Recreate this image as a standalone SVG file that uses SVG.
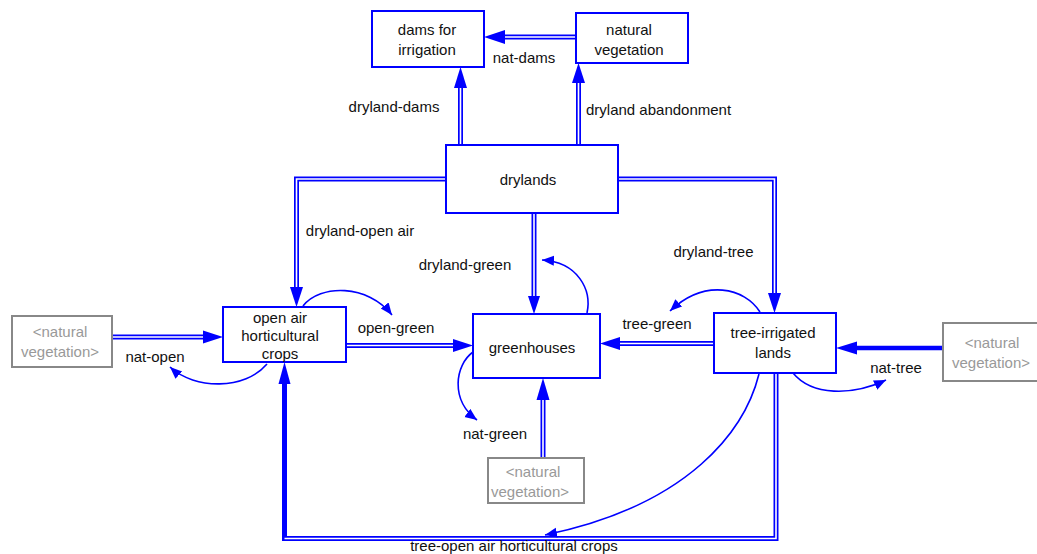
<svg xmlns="http://www.w3.org/2000/svg" width="1037" height="554" viewBox="0 0 1037 554">
<style>
text{font-family:"Liberation Sans",Arial,sans-serif;font-size:15px;fill:#111;text-anchor:middle}
.ghost text{fill:#999}
.box{fill:#fff;stroke:#0000ff;stroke-width:2}
.gbox{fill:#fff;stroke:#888;stroke-width:2}
.po{fill:none;stroke:#0000ff;stroke-width:5}
.pi{fill:none;stroke:#fff;stroke-width:1.6}
.ah{fill:#0000ff}
.link{fill:none;stroke:#0000ff;stroke-width:1.6}
.thick{fill:none;stroke:#0000ff;stroke-width:4.5}
</style>
<defs>
<marker id="arr" markerUnits="userSpaceOnUse" markerWidth="14" markerHeight="12" refX="12" refY="5" orient="auto">
<path d="M0,0 L12,5 L0,10 z" fill="#0000ff"/>
</marker>
</defs>
<rect width="1037" height="554" fill="#fff"/>
<g id="connectors">
<path class="po" d="M460.5,145 V87"/><path class="pi" d="M460.5,145 V87"/>
<path class="po" d="M578.5,145 V82"/><path class="pi" d="M578.5,145 V82"/>
<path class="po" d="M576,37 H504"/><path class="pi" d="M576,37 H504"/>
<path class="po" d="M446,179 H296.5 V287"/><path class="pi" d="M446,179 H296.5 V287"/>
<path class="po" d="M618,179 H774.5 V293"/><path class="pi" d="M618,179 H774.5 V293"/>
<path class="po" d="M534,213 V296"/><path class="pi" d="M534,213 V296"/>
<path class="po" d="M346,345.5 H454"/><path class="pi" d="M346,345.5 H454"/>
<path class="po" d="M714,343.5 H620"/><path class="pi" d="M714,343.5 H620"/>
<path class="po" d="M112,337 H204"/><path class="pi" d="M112,337 H204"/>
<path class="po" d="M543,458 V399"/><path class="pi" d="M543,458 V399"/>
<path class="po" d="M776,373 V538.5 H284.5 V383"/><path class="pi" d="M776,373 V538.5 H284.5"/>
<path class="thick" d="M943,348 H856"/>
<polygon class="ah" points="460.5,67 467,88 454,88"/>
<polygon class="ah" points="578.5,63 585,83 572,83"/>
<polygon class="ah" points="484,37 505,30 505,44"/>
<polygon class="ah" points="296.5,307 290,287 303,287"/>
<polygon class="ah" points="774.5,313 768,293 781,293"/>
<polygon class="ah" points="534,314 528,296 540,296"/>
<polygon class="ah" points="473,345.5 453,339 453,352"/>
<polygon class="ah" points="600,343.5 620,337 620,350"/>
<polygon class="ah" points="223,337 203,330.5 203,343.5"/>
<polygon class="ah" points="543,378 536.5,400 549.5,400"/>
<polygon class="ah" points="284.5,362 278.5,384 290.5,384"/>
<polygon class="ah" points="836,348 857,341.5 857,354.5"/>
<path class="link" marker-end="url(#arr)" d="M303,306 C320,284 368,284 392,315"/>
<path class="link" marker-end="url(#arr)" d="M267,364 C245,390 195,390 170,367"/>
<path class="link" marker-end="url(#arr)" d="M473,352 C455,365 450,400 477,420"/>
<path class="link" marker-end="url(#arr)" d="M587,313 C592,290 578,262 542,260"/>
<path class="link" marker-end="url(#arr)" d="M760,312 C745,288 705,278 670,311"/>
<path class="link" marker-end="url(#arr)" d="M793,373 C812,396 852,396 886,380"/>
<path class="link" marker-end="url(#arr)" d="M759,374 C745,430 690,505 545,535"/>
<text x="394" y="112">dryland-dams</text>
<text x="586" y="115" style="text-anchor:start">dryland abandonment</text>
<text x="524" y="63">nat-dams</text>
<text x="360" y="236">dryland-open air</text>
<text x="465" y="270">dryland-green</text>
<text x="713.5" y="257">dryland-tree</text>
<text x="396" y="333">open-green</text>
<text x="657" y="329">tree-green</text>
<text x="155" y="362">nat-open</text>
<text x="896" y="373">nat-tree</text>
<text x="495" y="439">nat-green</text>
<text x="514" y="551">tree-open air horticultural crops</text>
</g>
<g id="dams">
<rect class="box" x="372" y="11" width="112" height="56"/>
<text x="427" y="35">dams for</text>
<text x="427" y="55">irrigation</text>
</g>
<g id="natural-vegetation">
<rect class="box" x="576" y="13" width="112" height="50"/>
<text x="629" y="35">natural</text>
<text x="629" y="55">vegetation</text>
</g>
<g id="drylands">
<rect class="box" x="446" y="145" width="172" height="68"/>
<text x="528" y="185">drylands</text>
</g>
<g id="open-air">
<rect class="box" x="223" y="307" width="123" height="55"/>
<text x="280" y="323">open air</text>
<text x="280" y="341">horticultural</text>
<text x="280" y="359">crops</text>
</g>
<g id="greenhouses">
<rect class="box" x="473" y="314" width="127" height="64"/>
<text x="532" y="353">greenhouses</text>
</g>
<g id="tree-irrigated">
<rect class="box" x="714" y="313" width="122" height="60"/>
<text x="773" y="338">tree-irrigated</text>
<text x="773" y="358">lands</text>
</g>
<g id="ghost-left" class="ghost">
<rect class="gbox" x="12" y="316" width="100" height="51"/>
<text x="60" y="337">&lt;natural</text>
<text x="60" y="357">vegetation&gt;</text>
</g>
<g id="ghost-right" class="ghost">
<rect class="gbox" x="943" y="323" width="98" height="58"/>
<text x="992" y="348">&lt;natural</text>
<text x="991" y="368">vegetation&gt;</text>
</g>
<g id="ghost-bottom" class="ghost">
<rect class="gbox" x="488" y="458" width="96" height="45"/>
<text x="533" y="477">&lt;natural</text>
<text x="530" y="497">vegetation&gt;</text>
</g>
</svg>
